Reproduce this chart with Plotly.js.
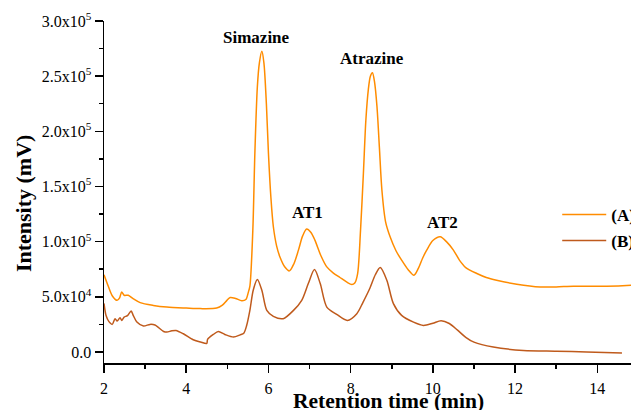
<!DOCTYPE html>
<html>
<head>
<meta charset="utf-8">
<script src="https://cdn.plot.ly/plotly-3.0.1.min.js"></script>
<style>html,body{margin:0;padding:0;background:#fff;}#chart{width:631px;height:410px;}</style>
</head>
<body>
<div id="chart"></div>
<script>
// Retention time (min) and intensity for chromatogram (A)
const timeA = [2.00,2.10,2.20,2.32,2.38,2.43,2.49,2.59,2.70,2.88,3.20,3.53,4.00,4.34,4.74,4.88,4.99,5.07,5.20,5.35,5.45,5.51,5.55,5.62,5.67,5.73,5.78,5.84,5.89,5.95,6.00,6.06,6.12,6.20,6.28,6.40,6.51,6.62,6.73,6.83,6.93,7.03,7.13,7.28,7.42,7.58,7.74,7.90,8.03,8.10,8.17,8.24,8.31,8.37,8.43,8.48,8.53,8.58,8.64,8.70,8.76,8.85,8.96,9.10,9.24,9.40,9.54,9.65,9.75,9.85,10.00,10.18,10.33,10.50,10.65,10.80,11.07,11.30,11.55,12.04,12.61,13.00,13.42,14.23,14.82,15.00];
const intensityA = [70000,60000,51000,46800,49000,54400,51400,51400,48500,44700,42200,40700,39800,39300,39800,42500,46800,49300,48500,46500,47500,54000,60000,110000,180300,240000,262000,272500,262000,225000,180300,140000,113500,96000,86100,77000,73500,80000,92300,105000,111400,108500,101400,87000,77100,71500,67500,63500,61100,62500,71100,110000,161800,210000,237800,250000,253000,245000,222700,185000,146800,118000,104400,92000,83200,74500,69500,76000,85000,92300,101000,104400,100000,92300,83000,76500,71100,67500,65000,61400,58900,59000,59600,59600,60500,61000];
// Retention time (min) and intensity for chromatogram (B)
const timeB = [2.00,2.05,2.12,2.20,2.27,2.32,2.39,2.43,2.49,2.57,2.66,2.71,2.80,2.96,3.12,3.24,3.45,3.53,3.65,3.75,3.93,4.17,4.35,4.50,4.52,4.66,4.78,4.94,5.15,5.31,5.40,5.47,5.55,5.63,5.73,5.84,5.96,6.12,6.36,6.61,6.81,6.97,7.12,7.26,7.42,7.66,7.92,8.15,8.30,8.47,8.60,8.72,8.88,9.04,9.24,9.53,9.77,10.00,10.20,10.40,10.60,10.80,11.00,11.47,12.20,13.01,13.74,14.60];
const intensityB = [44000,33000,27500,25000,30200,28000,31100,28600,31600,32900,37100,33200,27100,23500,25000,24400,18600,18000,19200,19500,16500,11100,9000,7800,11500,15900,18600,15900,13500,15500,17000,24000,38000,55900,65600,55900,37700,32300,30200,37700,46800,62000,74700,62000,40700,34100,28600,34700,45000,58000,70000,76500,65000,43800,33200,27100,24100,26000,28300,25800,19800,13300,8900,4400,1400,700,0,-1000];

const seriesNames = ['(A)', '(B)'];
const seriesColors = ['#ff8c00', '#bf5a1c'];

const peakNames = ['Simazine', 'AT1', 'Atrazine', 'AT2'];
const peakLabelX = [5.72, 6.95, 8.53, 10.24];
const peakLabelY = [285000, 126800, 265900, 117700];

const yTickVals = [0, 50000, 100000, 150000, 200000, 250000, 300000];
const yTickText = ['0.0', '5.0x10<sup>4</sup>', '1.0x10<sup>5</sup>', '1.5x10<sup>5</sup>', '2.0x10<sup>5</sup>', '2.5x10<sup>5</sup>', '3.0x10<sup>5</sup>'];

const xTitle = 'Retention time (min)';
const yTitle = 'Intensity (mV)';

const serif = 'Liberation Serif, Times New Roman, serif';

const traces = [
  {x: timeA, y: intensityA, name: seriesNames[0], type: 'scatter', mode: 'lines',
   line: {color: seriesColors[0], width: 1.5, shape: 'spline', smoothing: 0.8}, legend: 'legend'},
  {x: timeB, y: intensityB, name: seriesNames[1], type: 'scatter', mode: 'lines',
   line: {color: seriesColors[1], width: 1.5, shape: 'spline', smoothing: 0.8}, legend: 'legend2'}
];

const annotations = peakNames.map((n, i) => ({
  x: peakLabelX[i], y: peakLabelY[i], xref: 'x', yref: 'y', text: '<b>' + n + '</b>',
  showarrow: false, font: {family: serif, size: 17, color: '#000'}
}));
// axis titles (placed as in the original figure, whose plot area ran past the right edge)
annotations.push({x: 0.540, y: -0.111, xref: 'paper', yref: 'paper', xanchor: 'center', yanchor: 'middle',
  text: '<b>' + xTitle + '</b>', showarrow: false, font: {family: serif, size: 21.5, color: '#000'}});
annotations.push({x: -0.1528, y: 0.469, xref: 'paper', yref: 'paper', xanchor: 'center', yanchor: 'middle',
  text: '<b>' + yTitle + '</b>', textangle: -90, showarrow: false, font: {family: serif, size: 22, color: '#000'}});

const legendFont = {family: serif, size: 17, color: '#000', weight: 'bold'};

const layout = {
  width: 631, height: 410,
  margin: {l: 104, r: 0, t: 21, b: 47, autoexpand: false},
  paper_bgcolor: '#fff', plot_bgcolor: '#fff',
  font: {family: serif, size: 16, color: '#000'},
  showlegend: true,
  legend: {x: 0.860, y: 0.433, xanchor: 'left', yanchor: 'middle', bgcolor: 'rgba(0,0,0,0)', font: legendFont, itemwidth: 44},
  legend2: {x: 0.860, y: 0.357, xanchor: 'left', yanchor: 'middle', bgcolor: 'rgba(0,0,0,0)', font: legendFont, itemwidth: 44},
  xaxis: {
    range: [2, 14.82], showgrid: false, zeroline: false,
    showline: true, linecolor: '#000', linewidth: 1.5,
    ticks: 'outside', ticklen: 8, tickwidth: 1.5, tickcolor: '#000',
    tickmode: 'linear', tick0: 2, dtick: 2, ticklabelstandoff: 2,
    minor: {ticks: 'outside', ticklen: 4, tickwidth: 1.5, tickcolor: '#000', dtick: 1, tick0: 2, showgrid: false},
    tickfont: {family: serif, size: 16}
  },
  yaxis: {
    range: [-10000, 300000], showgrid: false, zeroline: false,
    showline: true, linecolor: '#000', linewidth: 1.5,
    ticks: 'outside', ticklen: 8, tickwidth: 1.5, tickcolor: '#000',
    tickmode: 'array', tickvals: yTickVals, ticktext: yTickText,
    minor: {ticks: 'outside', ticklen: 4, tickwidth: 1.5, tickcolor: '#000', tickmode: 'linear', tick0: 0, dtick: 25000, showgrid: false},
    tickfont: {family: serif, size: 16}
  },
  annotations: annotations
};

Plotly.newPlot('chart', traces, layout, {displayModeBar: false, staticPlot: true});
</script>
</body>
</html>
